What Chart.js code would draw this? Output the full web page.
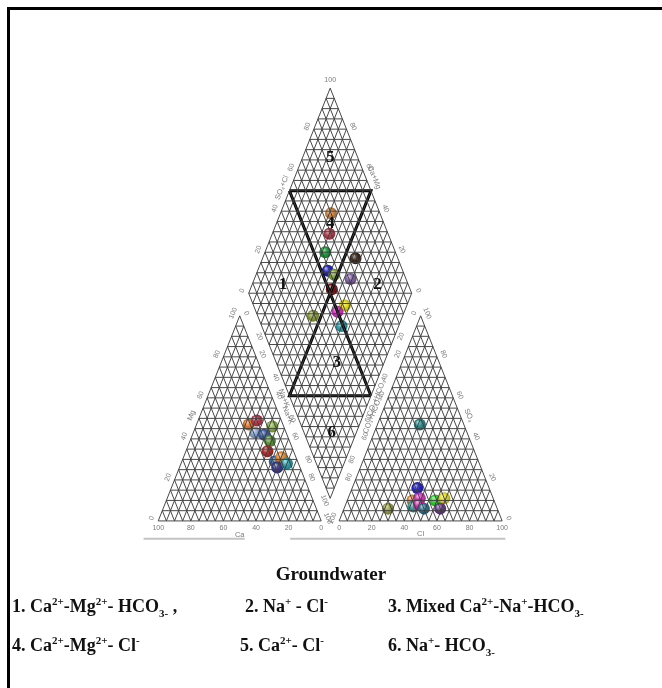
<!DOCTYPE html>
<html>
<head>
<meta charset="utf-8">
<script src="https://cdn.jsdelivr.net/npm/chart.js@4.4.1/dist/chart.umd.min.js"></script>
<style>
html, body { margin: 0; padding: 0; background: #fff; }
#wrap { position: relative; width: 662px; height: 688px; overflow: hidden; }
#piper { position: absolute; left: 0; top: 0; }
.frame { position: absolute; left: 7px; top: 7px; width: 700px; height: 700px; border-left: 3px solid #000; border-top: 3px solid #000; }
.txt { position: absolute; font-family: 'Liberation Serif', 'Times New Roman', serif; font-weight: bold; color: #111; white-space: nowrap; }
.title { font-size: 19px; left: 0; width: 662px; text-align: center; top: 563px; }
.zone { font-size: 18px; }
sup, sub { font-size: 11px; line-height: 0; }
</style>
</head>
<body>
<div id="wrap">
  <canvas id="piper" width="662" height="688"></canvas>
  <div class="frame"></div>
  <div class="txt title">Groundwater</div>
</div>
<script>
// Piper diagram - groundwater samples

// cation triangle (%)
const cationCa = [21, 15, 7, 19, 14, 12, 16, 14, 9, 14, 7];
const cationMg = [47, 49, 46, 43, 42, 39, 34, 29, 31, 26, 28];
const cationNa = [32, 36, 47, 38, 44, 49, 50, 57, 60, 60, 65];
const cationColors = ['#e07a2a', '#c23a4e', '#8db54a', '#87a9d6', '#3f5ea8', '#5f9e3c', '#b5302e', '#3c6ea6', '#e89038', '#3c3c8c', '#2fa3ad'];

// anion triangle (%)
const anionHco3 = [27, 67, 44, 50, 45, 51, 47, 45, 36, 30, 35];
const anionSo4 = [47, 6, 16, 10, 11, 7, 8, 6, 10, 11, 6];
const anionCl = [26, 27, 40, 40, 44, 42, 45, 49, 54, 59, 59];
const anionColors = ['#2f8d8d', '#9da545', '#2424d6', '#e8863a', '#e03cc8', '#3f9a9a', '#d02ea8', '#2e7898', '#2ed62e', '#e6e020', '#6e3e8e'];

// diamond (%)
const diamondCaMg = [69, 65, 63, 43, 57, 52, 41, 50, 38, 41, 55, 35];
const diamondSo4Cl = [70, 64, 57, 74, 54, 57, 66, 52, 56, 50, 34, 49];
const diamondColors = ['#d08a48', '#b84050', '#1fa23f', '#3e2a1e', '#2020d8', '#86a83e', '#8466a8', '#861010', '#e8e020', '#d836c8', '#92a440', '#32a6b6'];

// hydrochemical facies
const zoneNames = [
	'1. Ca<sup>2+</sup>-Mg<sup>2+</sup>- HCO<sub>3-</sub> ,',
	'2. Na<sup>+</sup> - Cl<sup>-</sup>',
	'3. Mixed Ca<sup>2+</sup>-Na<sup>+</sup>-HCO<sub>3-</sub>',
	'4. Ca<sup>2+</sup>-Mg<sup>2+</sup>- Cl<sup>-</sup>',
	'5. Ca<sup>2+</sup>- Cl<sup>-</sup>',
	'6. Na<sup>+</sup>- HCO<sub>3-</sub>'
];
const zoneNumCaMg = [81, 23, 29, 67, 83, 15];
const zoneNumSo4Cl = [23, 81, 37, 67, 83, 17];

const TICKS = [0, 20, 40, 60, 80, 100];

// facies boundaries in diamond, [CaMg, SO4Cl] pairs
const boundaryA = [[100, 50], [50, 100], [50, 0], [0, 50], null, [100, 50], [0, 50], null, [50, 100], [50, 0]];

const H = 86.6025, GAP = 11, STEP = 5;
const B = { x: 100 + GAP / 2, y: GAP * H / 100 };
const BREAK = () => ({ x: null, y: null });

function dia(a, b) {
	return { x: B.x + 0.5 * (b - a), y: B.y + (a + b) * H / 100 };
}
function cat(i) {
	return { x: cationNa[i] + 0.5 * cationMg[i], y: cationMg[i] * H / 100 };
}
function ani(i) {
	return { x: 100 + GAP + anionCl[i] + 0.5 * anionSo4[i], y: anionSo4[i] * H / 100 };
}

function triGrid(ox) {
	const pts = [];
	const seg = (p, q) => pts.push(p, q, BREAK());
	for (let k = 0; k < 100; k += STEP) {
		seg({ x: ox + k / 2, y: k * H / 100 }, { x: ox + 100 - k / 2, y: k * H / 100 });
		seg({ x: ox + k, y: 0 }, { x: ox + k + (100 - k) / 2, y: (100 - k) * H / 100 });
		seg({ x: ox + 100 - k, y: 0 }, { x: ox + (100 - k) / 2, y: (100 - k) * H / 100 });
	}
	return pts;
}

function diamondGrid() {
	const pts = [];
	const seg = (p, q) => pts.push(p, q, BREAK());
	for (let k = 0; k <= 100; k += STEP) {
		seg(dia(k, 0), dia(k, 100));
		seg(dia(0, k), dia(100, k));
	}
	for (let s = STEP; s < 200; s += STEP) {
		if (s <= 100) seg(dia(s, 0), dia(0, s));
		else seg(dia(100, s - 100), dia(s - 100, 100));
	}
	return pts;
}

function hexRgb(hex) {
	const n = parseInt(hex.slice(1), 16);
	return [(n >> 16) & 255, (n >> 8) & 255, n & 255];
}
function mix(hex, target, f) {
	const c = hexRgb(hex);
	return 'rgb(' + c.map(v => Math.round(v + (target - v) * f)).join(',') + ')';
}

function ballColor(colors) {
	return ctx => {
		const col = colors[ctx.dataIndex] || colors[0];
		if (ctx.type !== 'data' || !ctx.raw) return col;
		const chart = ctx.chart;
		const x = chart.scales.x.getPixelForValue(ctx.raw.x);
		const y = chart.scales.y.getPixelForValue(ctx.raw.y);
		if (!isFinite(x) || !isFinite(y)) return col;
		const g = chart.ctx.createRadialGradient(x - 2, y - 2.5, 0.5, x, y, 6.5);
		g.addColorStop(0, mix(col, 255, 0.6));
		g.addColorStop(0.45, col);
		g.addColorStop(1, mix(col, 0, 0.3));
		return g;
	};
}

function lineSet(data, color, width) {
	return {
		type: 'line', data, borderColor: color, borderWidth: width,
		pointRadius: 0, fill: false, spanGaps: false, tension: 0
	};
}

function ballSet(data, colors) {
	return {
		type: 'scatter', data, pointRadius: 6, borderWidth: 0,
		backgroundColor: ballColor(colors)
	};
}

function pxOf(chart, p) {
	return { x: chart.scales.x.getPixelForValue(p.x), y: chart.scales.y.getPixelForValue(p.y) };
}

function edgeText(chart, from, to, inside, items, off, font) {
	const ctx = chart.ctx;
	const a = pxOf(chart, from), b = pxOf(chart, to), c = pxOf(chart, inside);
	let dx = b.x - a.x, dy = b.y - a.y;
	const len = Math.hypot(dx, dy);
	dx /= len; dy /= len;
	let nx = -dy, ny = dx;
	if (nx * ((a.x + b.x) / 2 - c.x) + ny * ((a.y + b.y) / 2 - c.y) < 0) { nx = -nx; ny = -ny; }
	let ang = Math.atan2(dy, dx);
	if (ang > Math.PI / 2) ang -= Math.PI;
	if (ang < -Math.PI / 2) ang += Math.PI;
	items.forEach(([text, t, extra]) => {
		const d = off + (extra || 0);
		ctx.save();
		ctx.translate(a.x + (b.x - a.x) * t + nx * d, a.y + (b.y - a.y) * t + ny * d);
		ctx.rotate(ang);
		ctx.font = font;
		ctx.fillStyle = '#7a7a7a';
		ctx.textAlign = 'center';
		ctx.textBaseline = 'middle';
		ctx.fillText(text, 0, 0);
		ctx.restore();
	});
}

const tickItems = (fn, list) => (list || TICKS).map(v => [String(v), fn(v)]);

const labelPlugin = {
	id: 'piperLabels',
	afterDatasetsDraw(chart) {
		const ctx = chart.ctx;
		const f = '7px "Liberation Sans", Arial, sans-serif';
		const ft = '7.5px "Liberation Sans", Arial, sans-serif';

		// cation triangle
		const caV = { x: 0, y: 0 }, naV = { x: 100, y: 0 }, mgV = { x: 50, y: H };
		const cIn = { x: 50, y: H / 3 };
		edgeText(chart, caV, naV, cIn, tickItems(v => (100 - v) / 100), 7, f);
		edgeText(chart, caV, naV, cIn, [['Ca', 0.5]], 14, ft);
		edgeText(chart, caV, mgV, cIn, tickItems(v => v / 100), 7, f);
		edgeText(chart, caV, mgV, cIn, [['Mg', 0.5]], 8, ft);
		edgeText(chart, mgV, naV, cIn, tickItems(v => v / 100), 7, f);
		edgeText(chart, mgV, naV, cIn, [['Na+K', 0.5]], 8, ft);

		// anion triangle
		const ox = 100 + GAP;
		const hcV = { x: ox, y: 0 }, clV = { x: ox + 100, y: 0 }, soV = { x: ox + 50, y: H };
		const aIn = { x: ox + 50, y: H / 3 };
		edgeText(chart, hcV, clV, aIn, tickItems(v => v / 100), 7, f);
		edgeText(chart, hcV, clV, aIn, [['Cl', 0.5]], 13, ft);
		edgeText(chart, clV, soV, aIn, tickItems(v => v / 100), 7, f);
		edgeText(chart, clV, soV, aIn, [['SO\u2084', 0.5]], 8, ft);
		edgeText(chart, hcV, soV, aIn, tickItems(v => (100 - v) / 100), 7, f);
		edgeText(chart, hcV, soV, aIn, [['CO\u2083+HCO\u2083', 0.5]], 8, ft);

		// diamond
		const L = dia(100, 0), T = dia(100, 100), R = dia(0, 100), Bt = dia(0, 0);
		const dIn = dia(50, 50);
		edgeText(chart, L, T, dIn, tickItems(v => v / 100, [0, 20, 40, 60, 80]), 7, f);
		edgeText(chart, L, T, dIn, [['SO\u2084+Cl', 0.5]], 8, ft);
		edgeText(chart, R, T, dIn, tickItems(v => v / 100, [0, 20, 40, 60, 80]), 7, f);
		edgeText(chart, R, T, dIn, [['Ca+Mg', 0.55]], 8, ft);
		edgeText(chart, L, Bt, dIn, tickItems(v => v / 100, [20, 40, 60, 80, 100]), 6, f);
		edgeText(chart, L, Bt, dIn, [['Na+K', 0.5]], 6, ft);
		edgeText(chart, R, Bt, dIn, tickItems(v => v / 100, [20, 40, 60, 80]), 6, f);
		edgeText(chart, R, Bt, dIn, [['CO\u2083+HCO\u2083', 0.5]], 6, ft);
		const top = pxOf(chart, T);
		ctx.save();
		ctx.font = f;
		ctx.fillStyle = '#7a7a7a';
		ctx.textAlign = 'center';
		ctx.textBaseline = 'middle';
		ctx.fillText('100', top.x, top.y - 8);
		ctx.restore();

		// facies numbers
		ctx.save();
		ctx.font = 'bold 17px "Liberation Serif", "Times New Roman", serif';
		ctx.fillStyle = '#111';
		ctx.textAlign = 'center';
		ctx.textBaseline = 'middle';
		zoneNumCaMg.forEach((a, i) => {
			const p = pxOf(chart, dia(a, zoneNumSo4Cl[i]));
			ctx.fillText(String(i + 1), p.x, p.y);
		});
		ctx.restore();
	}
};

const gridPts = triGrid(0).concat(triGrid(100 + GAP), diamondGrid());
const boundaryPts = boundaryA.map(p => p ? dia(p[0], p[1]) : BREAK());
const baseLines = [{ x: -9, y: -7.5 }, { x: 53, y: -7.5 }, BREAK(), { x: 81, y: -7.5 }, { x: 213, y: -7.5 }];

const cationPts = cationCa.map((_, i) => cat(i));
const anionPts = anionCl.map((_, i) => ani(i));
const diamondPts = diamondCaMg.map((a, i) => dia(a, diamondSo4Cl[i]));

new Chart(document.getElementById('piper'), {
	type: 'scatter',
	data: {
		datasets: [
			lineSet(gridPts, '#3e3e3e', 0.95),
			lineSet(baseLines, '#c4c4c4', 2),
			lineSet(boundaryPts, '#000', 3),
			ballSet(cationPts, cationColors),
			ballSet(anionPts, anionColors),
			ballSet(diamondPts, diamondColors)
		]
	},
	options: {
		responsive: false,
		animation: false,
		events: [],
		layout: { padding: 0 },
		scales: {
			x: { type: 'linear', min: -93.4, max: 305.4, display: false },
			y: { type: 'linear', min: -68, max: 217.4, display: false }
		},
		plugins: { legend: { display: false }, tooltip: { enabled: false } }
	},
	plugins: [labelPlugin]
});

// legend of facies below the chart
const zoneLeft = [12, 245, 388, 12, 240, 388];
const zoneTop = [596, 596, 596, 635, 635, 635];
const wrap = document.getElementById('wrap');
zoneNames.forEach((html, i) => {
	const el = document.createElement('div');
	el.className = 'txt zone';
	el.style.left = zoneLeft[i] + 'px';
	el.style.top = zoneTop[i] + 'px';
	el.innerHTML = html;
	wrap.appendChild(el);
});
</script>
</body>
</html>
